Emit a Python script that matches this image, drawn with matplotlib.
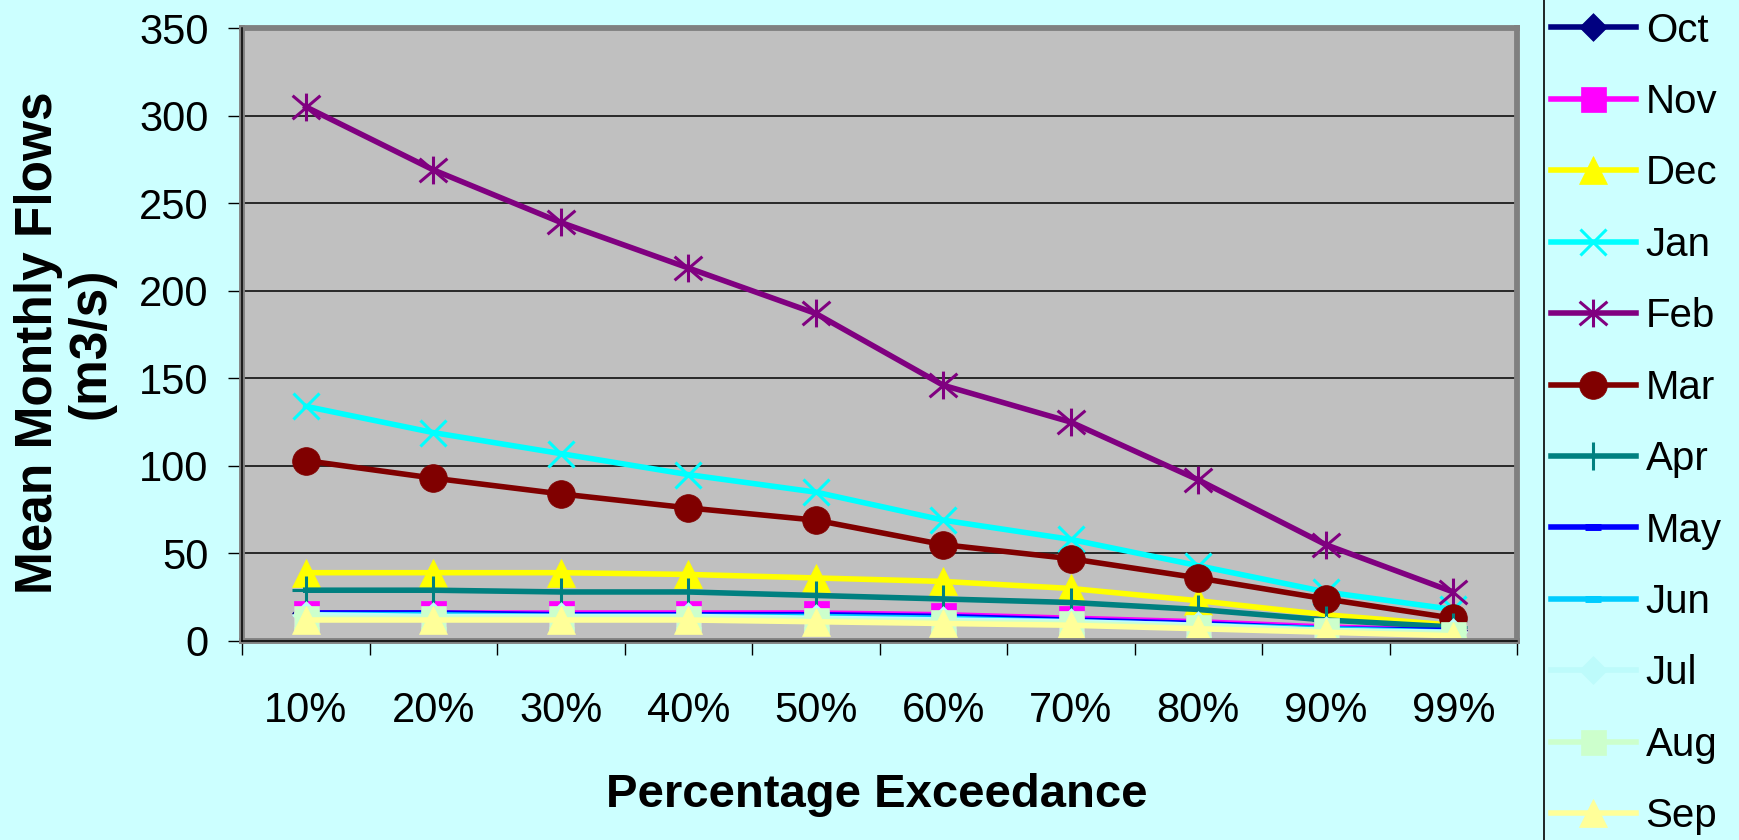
"""
Flow duration curves: mean monthly flows vs percentage exceedance.
"""
import numpy as np
import matplotlib
matplotlib.use('Agg')
import matplotlib.pyplot as plt
from matplotlib.path import Path
from matplotlib.lines import Line2D

plt.rcParams['font.family'] = ['Liberation Sans', 'DejaVu Sans']

exceedance = ['10%', '20%', '30%', '40%', '50%', '60%', '70%', '80%', '90%', '99%']

oct_q = [16, 16, 15, 15, 15, 14, 12, 10, 7, 6]
nov_q = [16, 16, 16, 16, 16, 15, 13, 11, 8, 6]
dec_q = [39, 39, 39, 38, 36, 34, 30, 23, 15, 9]
jan_q = [134, 119, 107, 95, 85, 69, 58, 43, 28, 18]
feb_q = [305, 269, 239, 213, 187, 146, 125, 92, 55, 28]
mar_q = [103, 93, 84, 76, 69, 55, 47, 36, 24, 13]
apr_q = [29, 29, 28, 28, 26, 24, 22, 18, 12, 8]
may_q = [16, 16, 15, 15, 15, 14, 12, 10, 7, 6]
jun_q = [15, 15, 14, 14, 14, 13, 11, 9, 7, 5]
jul_q = [15, 14, 14, 14, 13, 12, 11, 9, 6, 5]
aug_q = [13, 13, 13, 13, 12, 11, 10, 8, 6, 4]
sep_q = [12, 12, 12, 12, 11, 10, 9, 7, 5, 3]

months = ['Oct', 'Nov', 'Dec', 'Jan', 'Feb', 'Mar', 'Apr', 'May', 'Jun', 'Jul', 'Aug', 'Sep']
flows = [oct_q, nov_q, dec_q, jan_q, feb_q, mar_q, apr_q, may_q, jun_q, jul_q, aug_q, sep_q]

# Excel-like marker shapes
diamond = Path([(0, 1), (1, 0), (0, -1), (-1, 0), (0, 1)],
               [Path.MOVETO, Path.LINETO, Path.LINETO, Path.LINETO, Path.CLOSEPOLY])
star = Path([(0, -1), (0, 1), (-1, -0.85), (1, 0.85), (-1, 0.85), (1, -0.85)],
            [Path.MOVETO, Path.LINETO, Path.MOVETO, Path.LINETO, Path.MOVETO, Path.LINETO])

styles = {
    'Oct': dict(color='#000080', marker=diamond, filled=True, ms=20),
    'Nov': dict(color='#FF00FF', marker='s', filled=True, ms=18),
    'Dec': dict(color='#FFFF00', marker='^', filled=True, ms=20),
    'Jan': dict(color='#00FFFF', marker='x', filled=False, ms=19),
    'Feb': dict(color='#800080', marker=star, filled=False, ms=20),
    'Mar': dict(color='#800000', marker='o', filled=True, ms=20),
    'Apr': dict(color='#008080', marker='+', filled=False, ms=20),
    'May': dict(color='#0000FF', marker='_', filled=False, ms=11),
    'Jun': dict(color='#00CCFF', marker='_', filled=False, ms=11),
    'Jul': dict(color='#BDFBFB', marker=diamond, filled=True, ms=20),
    'Aug': dict(color='#CCFFCC', marker='s', filled=True, ms=18),
    'Sep': dict(color='#FFFF99', marker='^', filled=True, ms=20),
}

bg = '#CCFFFF'
fig = plt.figure(figsize=(17.39, 8.40), dpi=100, facecolor=bg)
ax = fig.add_axes([242 / 1739, 1 - 641 / 840, 1275 / 1739, 613 / 840])
ax.set_facecolor('#C0C0C0')

x = np.arange(len(exceedance))
handles = []
for name, q in zip(months, flows):
    st = styles[name]
    if st['filled']:
        mkw = dict(markerfacecolor=st['color'], markeredgecolor=st['color'], markeredgewidth=0.5)
    elif st['marker'] == '_':
        mkw = dict(markeredgecolor=st['color'], markeredgewidth=5)
    else:
        mkw = dict(markerfacecolor='none', markeredgecolor=st['color'], markeredgewidth=2.2)
    h, = ax.plot(x, q, color=st['color'], lw=4, marker=st['marker'],
                 markersize=st['ms'], label=name, **mkw)
    handles.append(h)

ax.set_xlim(-0.5, len(exceedance) - 0.5)
ax.set_ylim(0, 350)
ax.set_yticks(np.arange(0, 351, 50))
ax.set_xticks(np.arange(-0.5, len(exceedance), 1))
ax.set_xticklabels([])
ax.set_xticks(x, minor=True)
ax.set_xticklabels(exceedance, minor=True)

ax.tick_params(axis='y', length=10, width=1, pad=14, labelsize=30, color='black')
ax.tick_params(axis='x', which='major', length=10, width=1, color='black')
ax.tick_params(axis='x', which='minor', length=0, pad=36, labelsize=30)

ax.set_axisbelow(True)
ax.yaxis.grid(True, color='black', lw=1.1)
for sp in ax.spines.values():
    sp.set_color('#808080')
    sp.set_linewidth(4.2)
ax.axhline(0, color='black', lw=1.1, clip_on=False, zorder=3)
ax.axvline(-0.5, color='black', lw=1.1, clip_on=False, zorder=3)

fig.text(877 / 1739, 1 - 795 / 840, 'Percentage Exceedance', ha='center', va='center',
         fontsize=34, fontweight='bold')
fig.text(65 / 1739, 1 - 343 / 840, 'Mean Monthly Flows\n(m3/s)', rotation=90,
         ha='center', va='center', multialignment='center', linespacing=1.1,
         fontsize=37, fontweight='bold')

# legend strip on the right
fig.add_artist(Line2D([1544 / 1739, 1544 / 1739], [0, 1], color='black', lw=1.2,
                      transform=fig.transFigure))
fig.legend(handles, months, loc='upper left', bbox_to_anchor=(1551 / 1739, 1 - 11.5 / 840),
           frameon=False, borderpad=0, borderaxespad=0, handlelength=2.1,
           handletextpad=0.25, labelspacing=0.83, fontsize=29, numpoints=1)

fig.savefig('out.png', dpi=100, facecolor=bg)
